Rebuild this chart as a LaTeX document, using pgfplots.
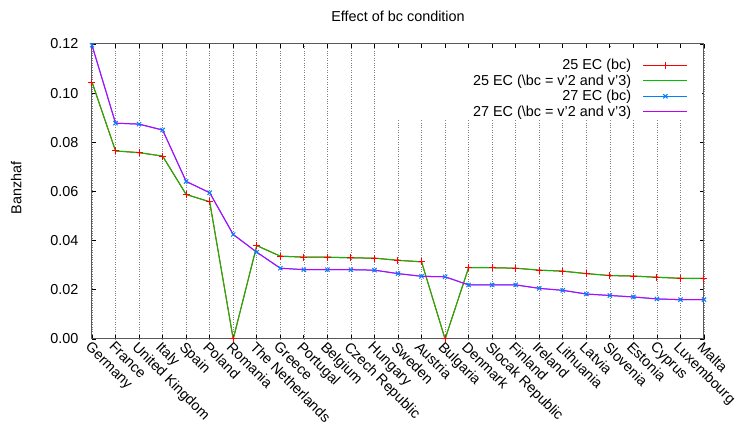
\documentclass[border=0pt]{standalone}
\usepackage{fontspec}
\setmainfont{Liberation Sans}
\usepackage{pgfplots}
\usepackage{pgfplotstable}
\pgfplotsset{compat=1.18}
\definecolor{gpred}{HTML}{FF0000}
\definecolor{gpgreen}{HTML}{00C000}
\definecolor{gpblue}{HTML}{0080FF}
\definecolor{gpmagenta}{HTML}{C000FF}

% Banzhaf index per country, 25 EC and 27 EC
\pgfplotstableread{
idx ec25   ec27
0   0.1045 0.1195
1   0.0765 0.0878
2   0.0758 0.0874
3   0.0744 0.0850
4   0.0588 0.0641
5   0.0558 0.0595
6   0.0000 0.0425
7   0.0380 0.0353
8   0.0337 0.0288
9   0.0333 0.0282
10  0.0333 0.0282
11  0.0330 0.0282
12  0.0329 0.0280
13  0.0320 0.0266
14  0.0314 0.0255
15  0.0000 0.0253
16  0.0290 0.0220
17  0.0290 0.0220
18  0.0288 0.0220
19  0.0280 0.0206
20  0.0276 0.0198
21  0.0266 0.0183
22  0.0258 0.0177
23  0.0256 0.0171
24  0.0251 0.0163
25  0.0247 0.0160
26  0.0247 0.0160
}\banzhaf

\begin{document}
\begin{tikzpicture}
\useasboundingbox (-92pt,-91pt) rectangle (648pt,339pt);
\begin{axis}[
  scale only axis, width=612pt, height=295pt,
  at={(0pt,0pt)}, anchor=south west,
  font=\fontsize{14.4}{17}\selectfont,
  xmin=0, xmax=26, ymin=0, ymax=0.12,
  xtick={0,...,26},
  xticklabels={Germany,France,United Kingdom,Italy,Spain,Poland,Romania,The Netherlands,Greece,Portugal,Belgium,Czech Republic,Hungary,Sweden,Austria,Bulgaria,Denmark,Slocak Republic,Finland,Ireland,Lithuania,Latvia,Slovenia,Estonia,Cyprus,Luxembourg,Malta},
  ytick={0,0.02,0.04,0.06,0.08,0.1,0.12},
  yticklabels={0.00,0.02,0.04,0.06,0.08,0.10,0.12},
  tick align=inside, major tick length=4pt,
  xmajorgrids, grid style={dotted, gray, line width=0.6pt},
  axis line style={gray!70!black, line width=1pt},
  tick style={black, line width=0.8pt},
  xticklabel style={rotate=-45, anchor=north west, inner sep=1pt},
  yticklabel style={xshift=-10pt},
  title={Effect of bc condition},
  title style={at={(0.5,1)}, anchor=base, yshift=16pt},
  ylabel={Banzhaf},
  every axis y label/.style={at={(axis description cs:-0.124,0.512)}, anchor=center, rotate=90},
  legend cell align=right,
  legend plot pos=right,
  legend style={draw=none, fill=none, at={(0.974,0.955)}, anchor=north east,
    inner sep=0pt, row sep=0pt,
    nodes={inner sep=1.8pt}, /tikz/every odd column/.style={column sep=10pt}},
  legend image code/.code={\draw[mark repeat=2,mark phase=2,#1] plot coordinates {(0pt,0pt) (22pt,0pt) (44pt,0pt)};},
]
\fill[white] (rel axis cs:0.487,0.742) rectangle (rel axis cs:0.997,0.985);
\addplot[gpred, line width=1pt, mark=+, mark size=3.5pt] table[x=idx, y=ec25] {\banzhaf};
\addlegendentry{25 EC (bc)}
\addplot[gpgreen, line width=1pt] table[x=idx, y=ec25] {\banzhaf};
\addlegendentry{25 EC (\textbackslash bc = v'2 and v'3)}
\addplot[gpblue, line width=1pt, mark=x, mark size=3pt] table[x=idx, y=ec27] {\banzhaf};
\addlegendentry{27 EC (bc)}
\addplot[gpmagenta, line width=1pt] table[x=idx, y=ec27] {\banzhaf};
\addlegendentry{27 EC (\textbackslash bc = v'2 and v'3)}
\end{axis}
\end{tikzpicture}
\end{document}
